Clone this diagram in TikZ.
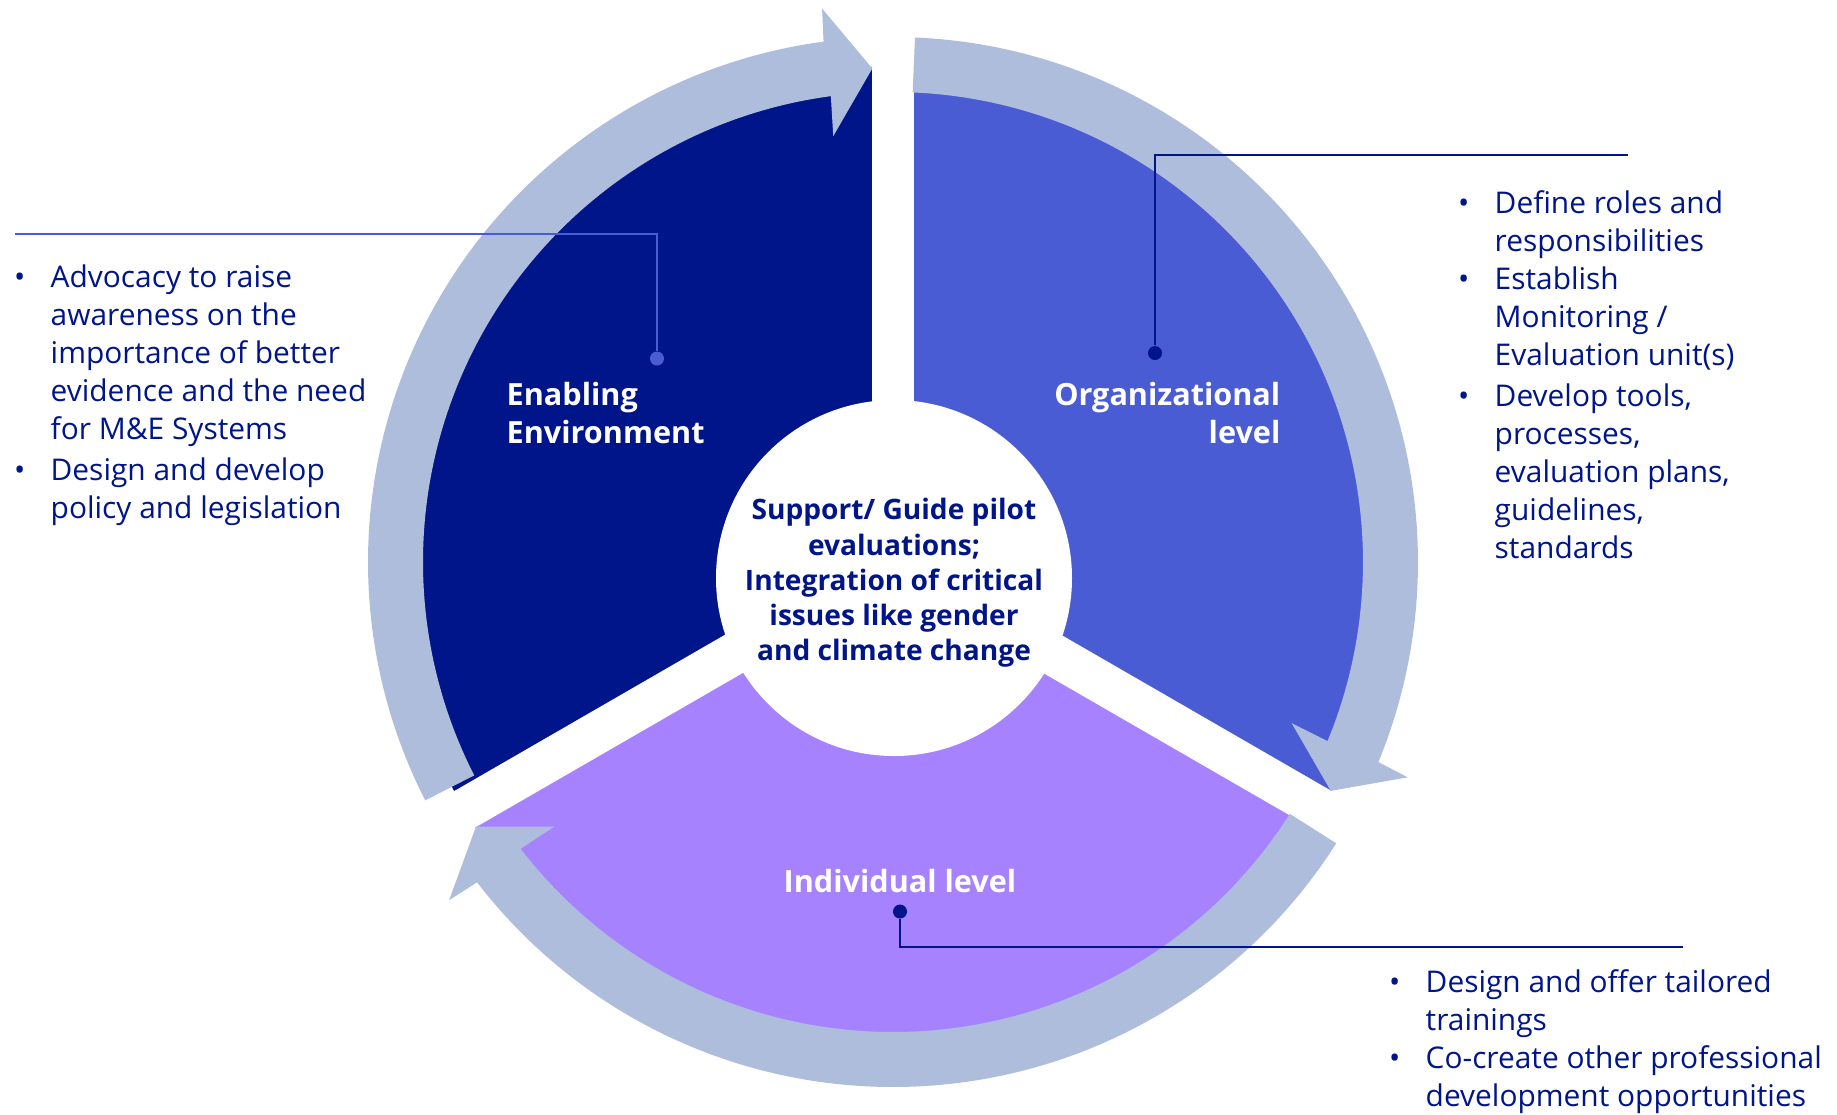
\documentclass[tikz,border=0pt]{standalone}
\usepackage{fontspec}
\setmainfont{Open Sans}
\usetikzlibrary{calc}

\definecolor{navy}{RGB}{0,21,137}
\definecolor{midblue}{RGB}{74,92,212}
\definecolor{lilac}{RGB}{167,130,255}
\definecolor{ringblue}{RGB}{175,189,221}

\newcommand{\bitem}{\makebox[0.365cm][l]{\textbullet}}
\newcommand{\bcont}{\hspace*{0.365cm}}

\begin{document}
\begin{tikzpicture}[x=0.01cm,y=0.01cm,
	ring/.style={fill=ringblue},
	gap/.style={white,line width=0.42cm},
	leader/.style={navy,line width=0.45pt},
	dot/.style={circle,fill=navy,inner sep=0pt,minimum size=0.14cm},
	bullets/.style={navy,align=left,anchor=north west,inner sep=0pt,font=\fontsize{8.5}{10.8}\selectfont},
	label/.style={white,inner sep=0pt,font=\bfseries\fontsize{8.7}{10.6}\selectfont}]
	\useasboundingbox (-893,-552) rectangle (944,562);
	% the three sectors
	\fill [navy] (0,0) -- (90:495) arc [start angle=90, end angle=210, radius=495] -- cycle;
	\fill [midblue] (0,0) -- (-30:495) arc [start angle=-30, end angle=90, radius=495] -- cycle;
	\fill [lilac] (0,0) -- (210:495) arc [start angle=210, end angle=330, radius=495] -- cycle;
	\foreach \a in {90,210,330}
		\draw [gap] (0,0) -- (\a:560);
	\fill [white] (1,-16) circle [radius=178];
	% arrows round the ring
	\foreach \t/\b/\p in {207/97.6/92.4, 87.6/-22.4/-27.6, -32.4/-142.4/-147.6} {
		\coordinate (m) at (\b:494);
		\coordinate (p) at (\p:494);
		\fill [ring] (\t:470) arc [start angle=\t, end angle=\b, radius=470]
			-- ($(m)!0.64cm!-90:(p)$) -- (p) -- ($(m)!0.64cm!90:(p)$)
			-- (\b:525) arc [start angle=\b, end angle=\t, radius=525] -- cycle;
	}
	% leaders
	\node [dot, fill=midblue] (envdot) at (-236,203.5) {};
	\coordinate (envbend) at (-236,328);
	\coordinate (envend) at (-878,328);
	\draw [leader, midblue] (envdot) -- (envbend) -- (envend);
	\node [dot] (orgdot) at (262,209) {};
	\coordinate (orgbend) at (262,407);
	\coordinate (orgend) at (735,407);
	\draw [leader] (orgdot) -- (orgbend) -- (orgend);
	\node [dot] (inddot) at (7,-349.5) {};
	\coordinate (indbend) at (7,-385);
	\coordinate (indend) at (790,-385);
	\draw [leader] (inddot) -- (indbend) -- (indend);
	% labels
	\node [label, align=left, anchor=north west] (envlabel) at (-387,180) {Enabling\\Environment};
	\node [label, align=right, anchor=north east] (orglabel) at (388,180) {Organizational\\level};
	\node [label, anchor=base] (indlabel) at (7,-330) {Individual level};
	\node [navy, align=center, inner sep=0pt, font=\bfseries\fontsize{8}{10}\selectfont] (hub) at (1,-21)
		{Support/ Guide pilot\\evaluations;\\Integration of critical\\issues like gender\\and climate change};
	% bullet lists
	\node [bullets] (envlist) at (-879.5,298) {\bitem Advocacy to raise\\ \bcont awareness on the\\ \bcont importance of better\\ \bcont evidence and the need\\ \bcont for M\&E Systems\\[0.03cm] \bitem Design and develop\\ \bcont policy and legislation};
	\node [bullets] (orglist) at (564.5,372) {\bitem Define roles and\\ \bcont responsibilities\\ \bitem Establish\\ \bcont Monitoring /\\ \bcont Evaluation unit(s)\\[0.03cm] \bitem Develop tools,\\ \bcont processes,\\ \bcont evaluation plans,\\ \bcont guidelines,\\ \bcont standards};
	\node [bullets] (indlist) at (495.5,-407) {\bitem Design and offer tailored\\ \bcont trainings\\ \bitem Co-create other professional\\ \bcont development opportunities};
\end{tikzpicture}
\end{document}
